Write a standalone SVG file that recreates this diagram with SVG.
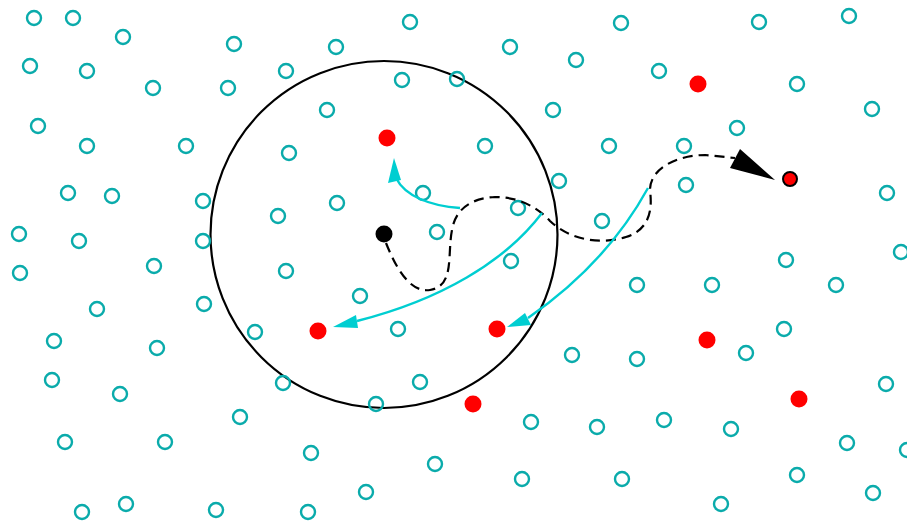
<svg xmlns="http://www.w3.org/2000/svg" width="907" height="524" viewBox="0 0 907 524">
<style>
.t{fill:none;stroke:#0AABAB;stroke-width:2.4}
.r{fill:#FF0000;stroke:none}
.big{fill:none;stroke:#000;stroke-width:2.2}
.dash{fill:none;stroke:#000;stroke-width:2.2;stroke-dasharray:10,6}
.cy{fill:none;stroke:#00CED1;stroke-width:2.4}
.cyh{fill:#00CED1;stroke:none}
.bh{fill:#000;stroke:none}
</style>
<rect width="907" height="524" fill="#fff"/>
<g id="region"><circle class="big" cx="384" cy="234.5" r="173.5"/></g>
<g id="teal-nodes">
<g id="n1"><circle class="t" cx="34" cy="18" r="7"/></g>
<g id="n2"><circle class="t" cx="73" cy="18" r="7"/></g>
<g id="n3"><circle class="t" cx="123" cy="37" r="7"/></g>
<g id="n4"><circle class="t" cx="234" cy="44" r="7"/></g>
<g id="n5"><circle class="t" cx="336" cy="47" r="7"/></g>
<g id="n6"><circle class="t" cx="410" cy="22" r="7"/></g>
<g id="n7"><circle class="t" cx="510" cy="47" r="7"/></g>
<g id="n8"><circle class="t" cx="621" cy="23" r="7"/></g>
<g id="n9"><circle class="t" cx="759" cy="22" r="7"/></g>
<g id="n10"><circle class="t" cx="849" cy="16" r="7"/></g>
<g id="n11"><circle class="t" cx="30" cy="66" r="7"/></g>
<g id="n12"><circle class="t" cx="87" cy="71" r="7"/></g>
<g id="n13"><circle class="t" cx="153" cy="88" r="7"/></g>
<g id="n14"><circle class="t" cx="228" cy="88" r="7"/></g>
<g id="n15"><circle class="t" cx="286" cy="71" r="7"/></g>
<g id="n16"><circle class="t" cx="402" cy="80" r="7"/></g>
<g id="n17"><circle class="t" cx="457" cy="79" r="7"/></g>
<g id="n18"><circle class="t" cx="576" cy="60" r="7"/></g>
<g id="n19"><circle class="t" cx="659" cy="71" r="7"/></g>
<g id="n20"><circle class="t" cx="797" cy="84" r="7"/></g>
<g id="n21"><circle class="t" cx="872" cy="109" r="7"/></g>
<g id="n22"><circle class="t" cx="38" cy="126" r="7"/></g>
<g id="n23"><circle class="t" cx="87" cy="146" r="7"/></g>
<g id="n24"><circle class="t" cx="186" cy="146" r="7"/></g>
<g id="n25"><circle class="t" cx="289" cy="153" r="7"/></g>
<g id="n26"><circle class="t" cx="327" cy="110" r="7"/></g>
<g id="n27"><circle class="t" cx="553" cy="110" r="7"/></g>
<g id="n28"><circle class="t" cx="485" cy="146" r="7"/></g>
<g id="n29"><circle class="t" cx="609" cy="146" r="7"/></g>
<g id="n30"><circle class="t" cx="684" cy="146" r="7"/></g>
<g id="n31"><circle class="t" cx="737" cy="128" r="7"/></g>
<g id="n32"><circle class="t" cx="68" cy="193" r="7"/></g>
<g id="n33"><circle class="t" cx="112" cy="196" r="7"/></g>
<g id="n34"><circle class="t" cx="203" cy="201" r="7"/></g>
<g id="n35"><circle class="t" cx="278" cy="216" r="7"/></g>
<g id="n36"><circle class="t" cx="337" cy="203" r="7"/></g>
<g id="n37"><circle class="t" cx="423" cy="193" r="7"/></g>
<g id="n38"><circle class="t" cx="518" cy="208" r="7"/></g>
<g id="n39"><circle class="t" cx="559" cy="181" r="7"/></g>
<g id="n40"><circle class="t" cx="602" cy="221" r="7"/></g>
<g id="n41"><circle class="t" cx="686" cy="185" r="7"/></g>
<g id="n42"><circle class="t" cx="887" cy="193" r="7"/></g>
<g id="n43"><circle class="t" cx="19" cy="234" r="7"/></g>
<g id="n44"><circle class="t" cx="79" cy="241" r="7"/></g>
<g id="n45"><circle class="t" cx="203" cy="241" r="7"/></g>
<g id="n46"><circle class="t" cx="437" cy="232" r="7"/></g>
<g id="n47"><circle class="t" cx="511" cy="261" r="7"/></g>
<g id="n48"><circle class="t" cx="154" cy="266" r="7"/></g>
<g id="n49"><circle class="t" cx="286" cy="271" r="7"/></g>
<g id="n50"><circle class="t" cx="20" cy="273" r="7"/></g>
<g id="n51"><circle class="t" cx="97" cy="309" r="7"/></g>
<g id="n52"><circle class="t" cx="204" cy="304" r="7"/></g>
<g id="n53"><circle class="t" cx="360" cy="296" r="7"/></g>
<g id="n54"><circle class="t" cx="255" cy="332" r="7"/></g>
<g id="n55"><circle class="t" cx="398" cy="329" r="7"/></g>
<g id="n56"><circle class="t" cx="637" cy="285" r="7"/></g>
<g id="n57"><circle class="t" cx="712" cy="285" r="7"/></g>
<g id="n58"><circle class="t" cx="786" cy="260" r="7"/></g>
<g id="n59"><circle class="t" cx="836" cy="285" r="7"/></g>
<g id="n60"><circle class="t" cx="901" cy="252" r="7"/></g>
<g id="n61"><circle class="t" cx="54" cy="341" r="7"/></g>
<g id="n62"><circle class="t" cx="157" cy="348" r="7"/></g>
<g id="n63"><circle class="t" cx="572" cy="355" r="7"/></g>
<g id="n64"><circle class="t" cx="637" cy="359" r="7"/></g>
<g id="n65"><circle class="t" cx="746" cy="353" r="7"/></g>
<g id="n66"><circle class="t" cx="784" cy="329" r="7"/></g>
<g id="n67"><circle class="t" cx="52" cy="380" r="7"/></g>
<g id="n68"><circle class="t" cx="120" cy="394" r="7"/></g>
<g id="n69"><circle class="t" cx="283" cy="383" r="7"/></g>
<g id="n70"><circle class="t" cx="420" cy="382" r="7"/></g>
<g id="n71"><circle class="t" cx="376" cy="404" r="7"/></g>
<g id="n72"><circle class="t" cx="886" cy="384" r="7"/></g>
<g id="n73"><circle class="t" cx="65" cy="442" r="7"/></g>
<g id="n74"><circle class="t" cx="165" cy="442" r="7"/></g>
<g id="n75"><circle class="t" cx="240" cy="417" r="7"/></g>
<g id="n76"><circle class="t" cx="311" cy="453" r="7"/></g>
<g id="n77"><circle class="t" cx="531" cy="422" r="7"/></g>
<g id="n78"><circle class="t" cx="597" cy="427" r="7"/></g>
<g id="n79"><circle class="t" cx="664" cy="420" r="7"/></g>
<g id="n80"><circle class="t" cx="731" cy="429" r="7"/></g>
<g id="n81"><circle class="t" cx="847" cy="443" r="7"/></g>
<g id="n82"><circle class="t" cx="907" cy="450" r="7"/></g>
<g id="n83"><circle class="t" cx="82" cy="512" r="7"/></g>
<g id="n84"><circle class="t" cx="126" cy="504" r="7"/></g>
<g id="n85"><circle class="t" cx="216" cy="510" r="7"/></g>
<g id="n86"><circle class="t" cx="308" cy="512" r="7"/></g>
<g id="n87"><circle class="t" cx="366" cy="492" r="7"/></g>
<g id="n88"><circle class="t" cx="435" cy="464" r="7"/></g>
<g id="n89"><circle class="t" cx="522" cy="479" r="7"/></g>
<g id="n90"><circle class="t" cx="622" cy="479" r="7"/></g>
<g id="n91"><circle class="t" cx="721" cy="504" r="7"/></g>
<g id="n92"><circle class="t" cx="797" cy="475" r="7"/></g>
<g id="n93"><circle class="t" cx="873" cy="493" r="7"/></g>
</g>
<g id="red-nodes">
<g id="r1"><circle class="r" cx="387" cy="138" r="8.5"/></g>
<g id="r2"><circle class="r" cx="318" cy="331" r="8.5"/></g>
<g id="r3"><circle class="r" cx="497" cy="329" r="8.5"/></g>
<g id="r4"><circle class="r" cx="473" cy="404" r="8.5"/></g>
<g id="r5"><circle class="r" cx="698" cy="84" r="8.5"/></g>
<g id="r6"><circle class="r" cx="707" cy="340" r="8.5"/></g>
<g id="r7"><circle class="r" cx="799" cy="399" r="8.5"/></g>
<g id="target"><circle cx="790" cy="179" r="7" fill="#FF0000" stroke="#000" stroke-width="2"/></g>
</g>
<g id="start"><circle cx="384" cy="234" r="8.5" fill="#000"/></g>
<g id="connectors">
<path class="dash" d="M386,243 C396,268 410,293 430,290 C455,286 447,255 452,230 C456,206 475,198 495,197 C520,197 538,208 550,221 C570,240 600,245 626,237 C655,228 651,200 650,190 C650,168 678,155 705,155 L735,158"/>
<polygon class="bh" points="740,149 730,168 775,180"/>
<path class="cy" d="M460,208 C430,206 405,196 396,178"/>
<polygon class="cyh" points="394,158 388,183 401,180"/>
<path class="cy" d="M542,213 C505,262 440,300 357,321"/>
<polygon class="cyh" points="333,327 356,315 358,328"/>
<path class="cy" d="M648,188 C625,230 590,275 528,318"/>
<polygon class="cyh" points="507,327 525,313 531,325"/>
</g>
</svg>
